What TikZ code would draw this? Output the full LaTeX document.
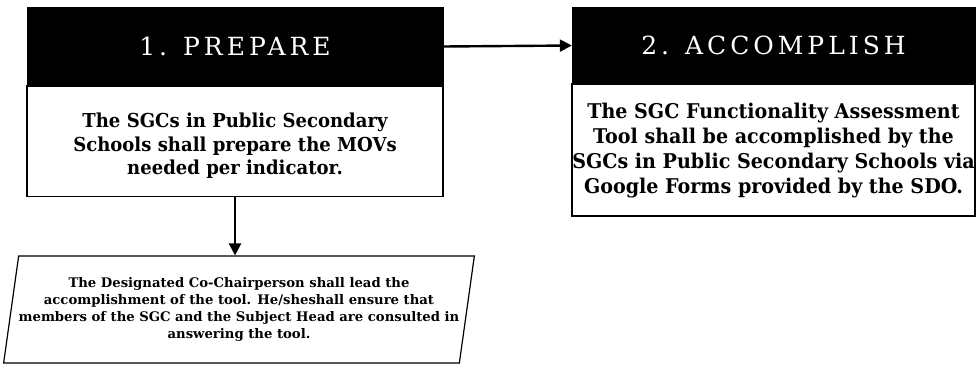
\documentclass[tikz,border=0pt]{standalone}
\usepackage{fontspec}
\setmainfont{DejaVu Serif}
\newfontfamily\headfont[LetterSpace=16]{DejaVu Serif}
\newfontfamily\bodyfont[FakeStretch=0.94]{DejaVu Serif Bold}
\newfontfamily\parafont{DejaVu Serif Bold}
\usetikzlibrary{arrows.meta,shapes.geometric}
\tikzset{
  headbox/.style={rectangle, draw=black, fill=black, text=white, inner sep=0pt,
    font=\headfont\fontsize{25}{29}\selectfont},
  bodybox/.style={rectangle, draw=black, line width=1.2pt, fill=white, inner sep=0pt},
  bodytext/.style={inner sep=0pt, align=center, font=\bodyfont\fontsize{20.3}{25}\selectfont},
  parabox/.style={trapezium, trapezium left angle=76.8, trapezium right angle=103.2,
    trapezium stretches=true, draw=black, line width=1.2pt, fill=white, inner sep=0pt, align=center,
    font=\parafont\fontsize{13.2}{17}\selectfont},
  flow/.style={line width=2.4pt, -{Triangle[length=12pt,width=12pt]}}
}
\begin{document}
\begin{tikzpicture}[x=1pt,y=-1pt]
\useasboundingbox (0,0) rectangle (976,365);
% box 1
\node[bodybox, minimum width=416pt, minimum height=111pt] (b1) at (235,141) {};
\node[bodytext, font=\bodyfont\fontsize{19.2}{23.5}\selectfont] (t1) at ([yshift=-5pt]b1.center) {The SGCs in Public Secondary\\Schools shall prepare the MOVs\\needed per indicator.};
\node[headbox, minimum width=416pt, minimum height=79pt] (h1) at (235,46.5) {1. PREPARE};
% box 2
\node[bodybox, minimum width=403pt, minimum height=132pt] (b2) at (773.5,150) {};
\node[bodytext] (t2) at ([yshift=-1pt]b2.center) {The SGC Functionality Assessment\\Tool shall be accomplished by the\\SGCs in Public Secondary Schools via\\Google Forms provided by the SDO.};
\node[headbox, minimum width=403pt, minimum height=77pt] (h2) at (773.5,45.5) {2. ACCOMPLISH};
% parallelogram
\node[parabox, minimum width=468pt, minimum height=107pt] (p) at (239,309.5) {The Designated Co-Chairperson shall lead the\\accomplishment of the tool. He/sheshall ensure that\\members of the SGC and the Subject Head are consulted in\\answering the tool.};
% connectors
\draw[flow] (h1.east) -- (h2.west);
\draw[flow] (b1.south) -- (b1.south |- p.north);
\end{tikzpicture}
\end{document}
